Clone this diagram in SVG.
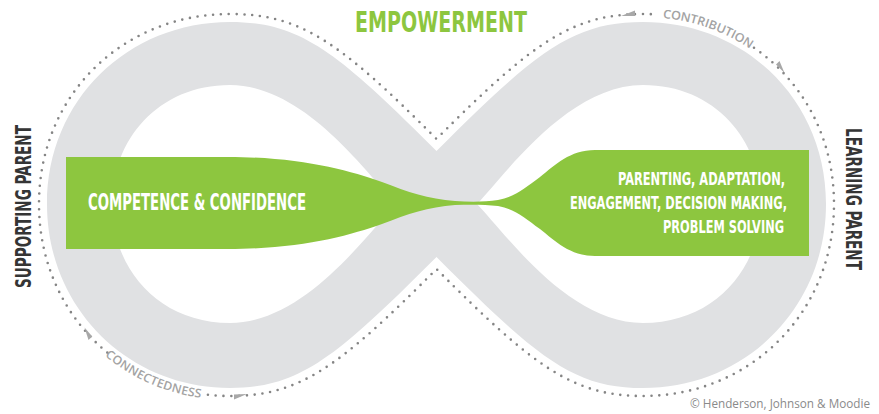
<svg xmlns="http://www.w3.org/2000/svg" width="879" height="414" viewBox="0 0 879 414">
<style>
.band{fill:#e0e1e3;fill-rule:evenodd}
.flow{fill:#8dc63f}
.dots{fill:none;stroke:#858585;stroke-width:2.6;stroke-linecap:round;stroke-dasharray:0 7.8}
.arrow{fill:#a8a8a8}
.cond{font-family:'Liberation Sans Narrow','DejaVu Sans Condensed','Roboto Condensed',sans-serif;font-weight:bold}
.white{fill:#ffffff}
.dark{fill:#353535}
.plabel{font-family:'Open Sans','Liberation Sans',sans-serif;font-weight:600;font-size:12px;fill:#a3a3a3}
</style>
<defs>
<path id="pContribution" d="M 643,14 C 750,14 834,95 834,204"/>
<path id="pConnectedness" d="M 39,204 C 39,313 123,396 230,396"/>
</defs>
<rect width="879" height="414" fill="#ffffff"/>
<g id="infinity-band">
<path class="band" d="M 436.5,151 C 536.5,51 573,22 643,22 C 745,22 826,100 826,204 C 826,308 745,388 643,388 C 573,388 536.5,357 436.5,257 C 336.5,357 300,388 230,388 C 128,388 47,308 47,204 C 47,100 128,22 230,22 C 300,22 336.5,51 436.5,151 Z M 396,204 C 368,175 305,85 230,85 C 158,85 112,140 112,204 C 112,268 158,323 230,323 C 305,323 368,233 396,204 Z M 477,204 C 505,175 568,85 643,85 C 715,85 761,140 761,204 C 761,268 715,323 643,323 C 568,323 505,233 477,204 Z"/>
</g>
<g id="green-flow">
<path class="flow" d="M 66,157 H 228 C 300,157 348,170 382,182 C 408,192 428,199 455,201 C 470,202 485,202 498,200 C 515,197 525,188 540,177 C 555,165 570,150 595,150 H 809 V 256 H 595 C 570,256 555,241 540,229 C 525,218 515,209 498,206 C 485,204.5 470,204.5 455,205 C 428,207 408,214 382,224 C 348,236 300,249 228,249 H 66 Z"/>
</g>
<g id="competence">
<text class="cond white" x="88" y="210" font-size="23" textLength="218" lengthAdjust="spacingAndGlyphs">COMPETENCE &amp; CONFIDENCE</text>
</g>
<g id="skills">
<text class="cond white" x="785" y="185" font-size="18" text-anchor="end" textLength="167" lengthAdjust="spacingAndGlyphs">PARENTING, ADAPTATION,</text>
<text class="cond white" x="787" y="209" font-size="18" text-anchor="end" textLength="217" lengthAdjust="spacingAndGlyphs">ENGAGEMENT, DECISION MAKING,</text>
<text class="cond white" x="784" y="233" font-size="18" text-anchor="end" textLength="121" lengthAdjust="spacingAndGlyphs">PROBLEM SOLVING</text>
</g>
<g id="connectors">
<path class="dots" d="M 754,47.8 C 802.8,81.4 834,137.5 834,204 C 834,313 750,396 643,396 C 573,396 534,367 436.5,269 C 339,367 300,396 230,396 C 222,396 214.1,395.5 206.4,394.6"/>
<path class="dots" d="M 107.3,352.6 C 65.3,317.9 39,265 39,204 C 39,95 123,14 230,14 C 300,14 339,41 436.5,139 C 534,41 573,14 643,14 C 647.8,14 652.6,14.2 657.3,14.5"/>
<polygon class="arrow" points="621,16 635,16 635,10.5"/>
<polygon class="arrow" points="784.5,73 776,64.5 779.5,61"/>
<polygon class="arrow" points="84.5,327.5 92.3,336.6 88.5,339.9"/>
<polygon class="arrow" points="247,394 234,394.5 234,399.5"/>
<text class="plabel" dy="3"><textPath href="#pContribution" startOffset="20" textLength="95" lengthAdjust="spacingAndGlyphs">CONTRIBUTION</textPath></text>
<text class="plabel" dy="4"><textPath href="#pConnectedness" startOffset="169" textLength="104" lengthAdjust="spacingAndGlyphs">CONNECTEDNESS</textPath></text>
</g>
<g id="title">
<text class="cond" x="355" y="32" font-size="28" fill="#8dc63f" textLength="172" lengthAdjust="spacingAndGlyphs">EMPOWERMENT</text>
</g>
<g id="supporting-parent">
<text class="cond dark" transform="translate(30.5,288) rotate(-90)" font-size="20.5" textLength="163" lengthAdjust="spacingAndGlyphs">SUPPORTING PARENT</text>
</g>
<g id="learning-parent">
<text class="cond dark" transform="translate(846,128) rotate(90)" font-size="20.5" textLength="142" lengthAdjust="spacingAndGlyphs">LEARNING PARENT</text>
</g>
<g id="credit">
<text x="690" y="408" font-family="'Open Sans','Liberation Sans',sans-serif" font-size="12" fill="#8a8a8a" textLength="180" lengthAdjust="spacingAndGlyphs">© Henderson, Johnson &amp; Moodie</text>
</g>
</svg>
